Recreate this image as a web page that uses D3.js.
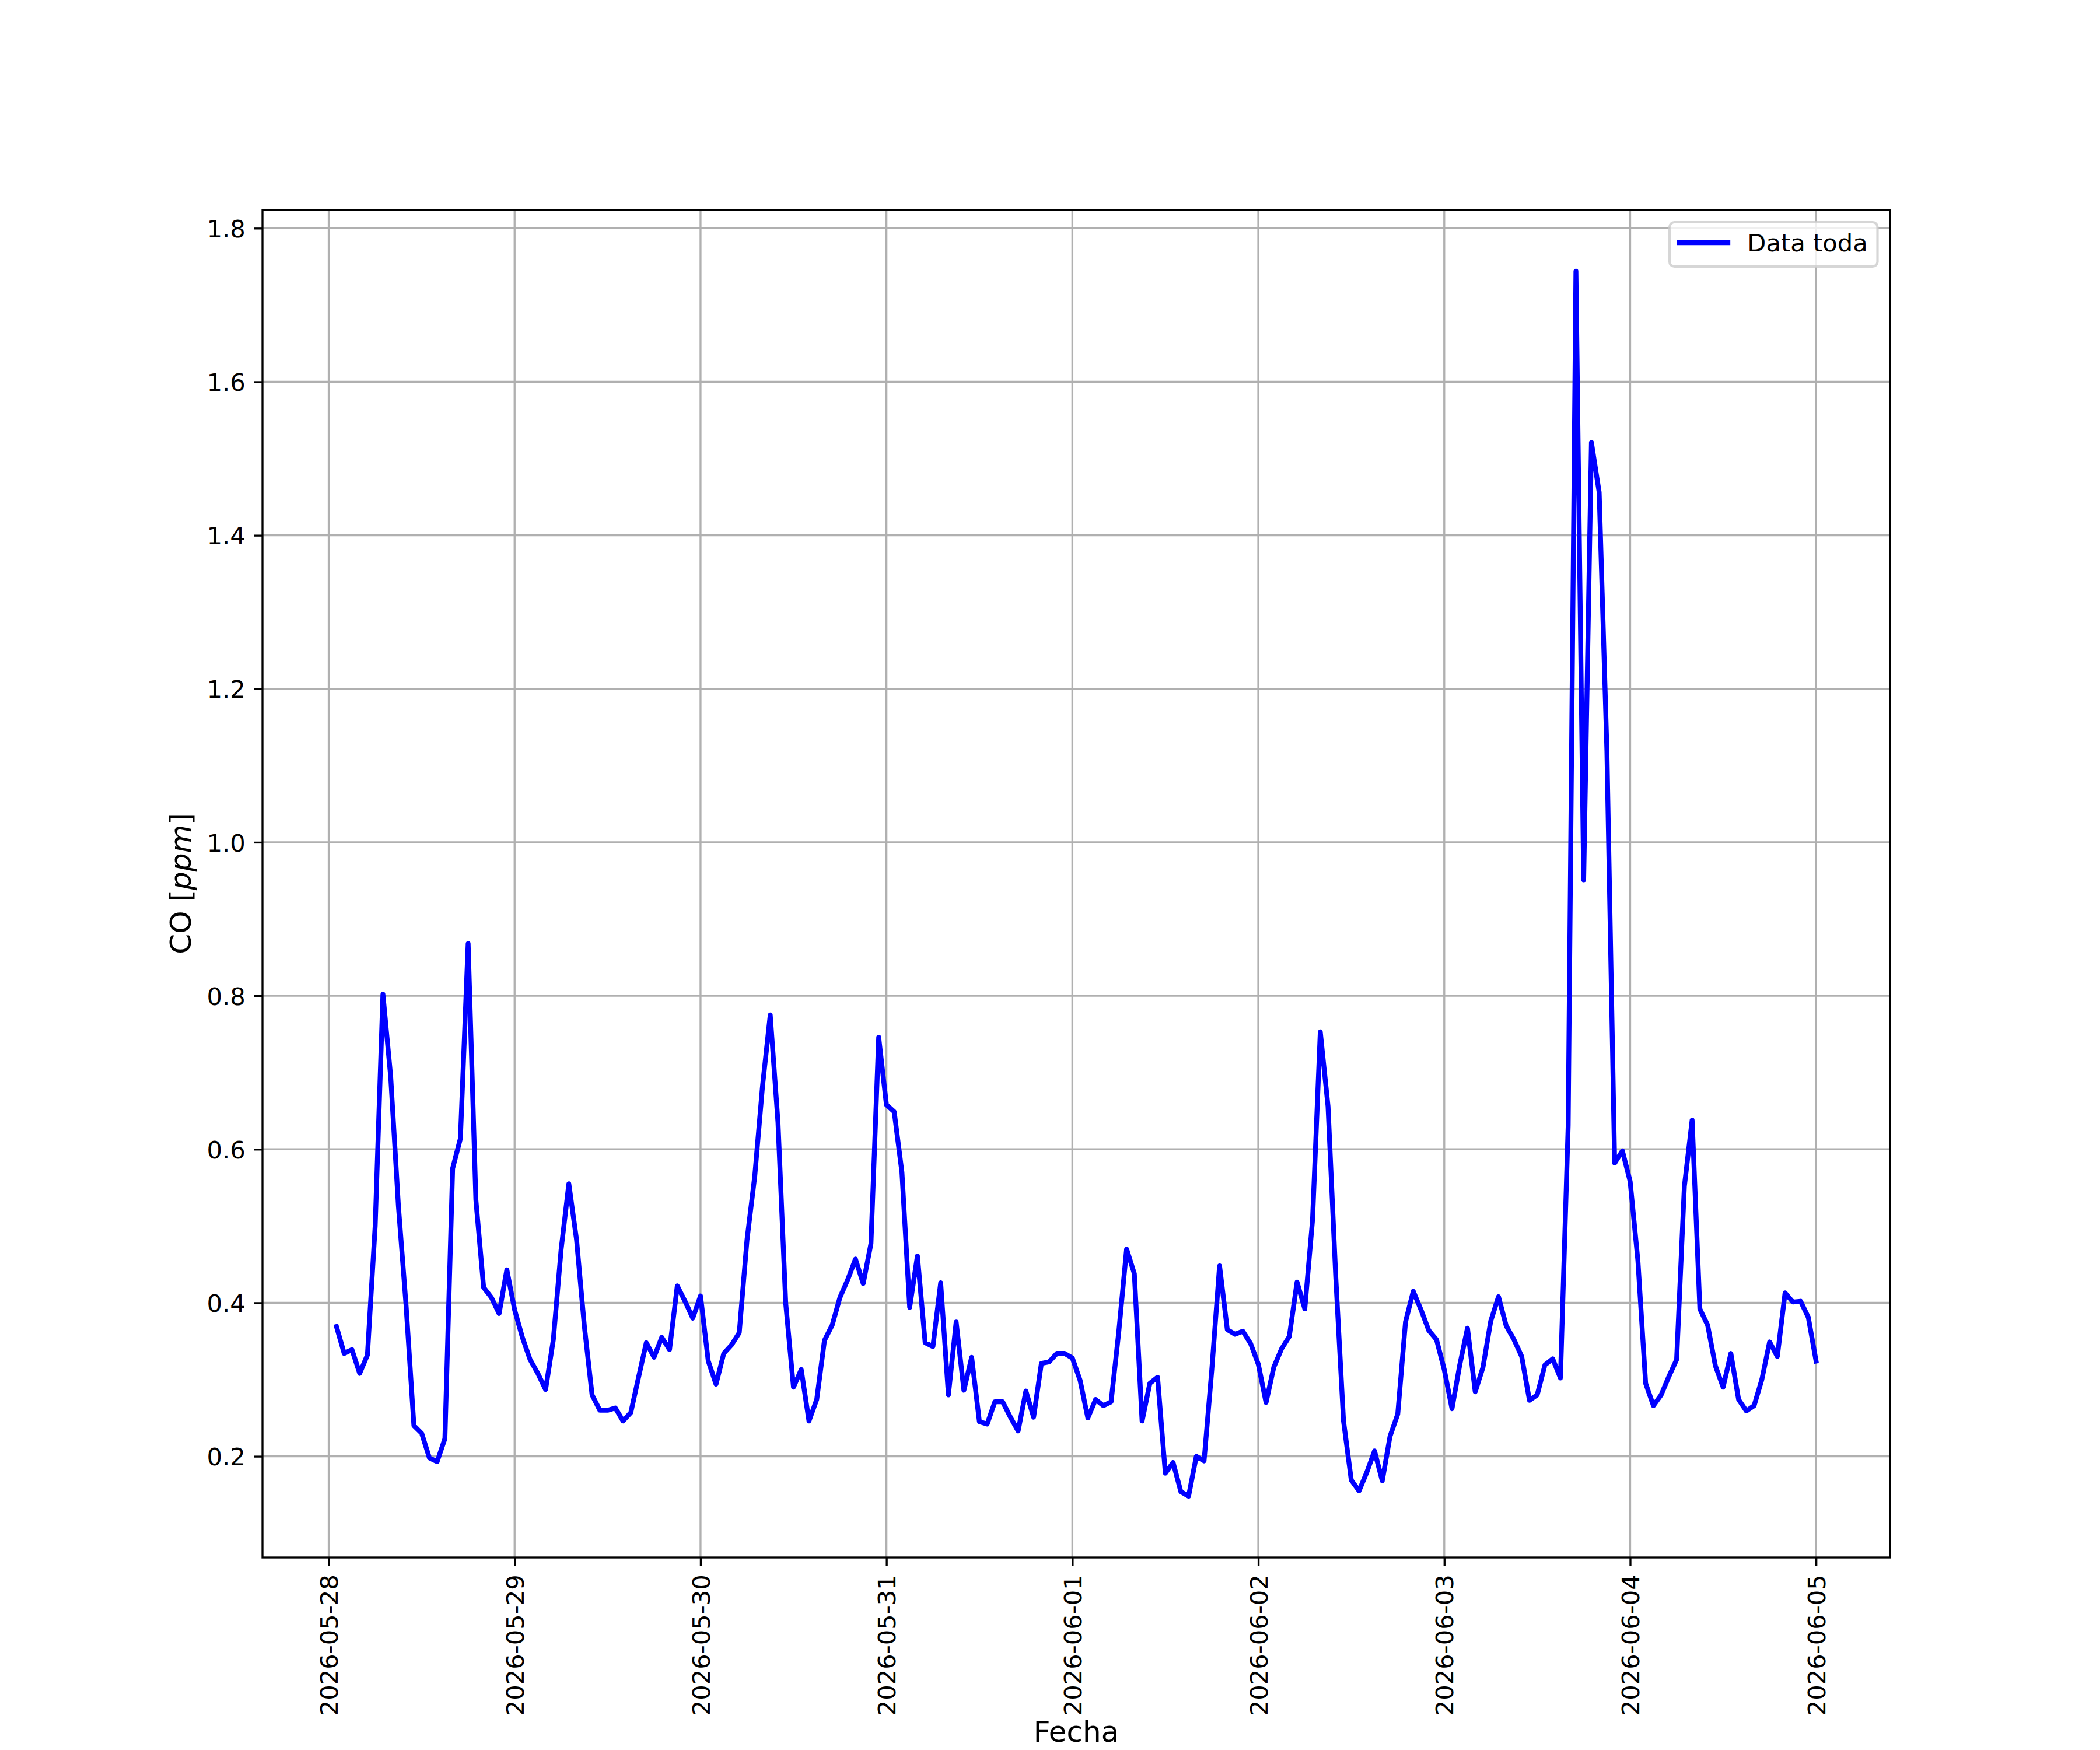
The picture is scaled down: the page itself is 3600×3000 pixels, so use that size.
<!DOCTYPE html>
<html>
<head>
<meta charset="utf-8">
<script src="https://cdn.jsdelivr.net/npm/d3@7"></script>
<style>
  body { margin: 0; background: #ffffff; }
  svg { display: block; }
  text { font-family: "DejaVu Sans", sans-serif; fill: #000; }
</style>
</head>
<body>
<svg id="chart" width="3600" height="3000"></svg>
<script>
// ---------------- DATA ----------------
const startTime = "2026-05-28T01:00:00Z";   // first hourly sample
const coValues = [
  0.369, 0.334, 0.339, 0.308, 0.332, 0.500, 0.802, 0.695, 0.526, 0.395, 0.240, 0.230,
  0.198, 0.193, 0.223, 0.575, 0.614, 0.868, 0.534, 0.420, 0.407, 0.386, 0.443, 0.391,
  0.355, 0.326, 0.308, 0.287, 0.352, 0.469, 0.555, 0.482, 0.370, 0.280, 0.260, 0.260,
  0.263, 0.246, 0.257, 0.303, 0.348, 0.329, 0.355, 0.339, 0.422, 0.402, 0.380, 0.409,
  0.324, 0.294, 0.334, 0.345, 0.361, 0.482, 0.565, 0.682, 0.775, 0.635, 0.399, 0.290,
  0.313, 0.246, 0.274, 0.351, 0.371, 0.407, 0.430, 0.457, 0.425, 0.477, 0.746, 0.658,
  0.649, 0.570, 0.394, 0.461, 0.348, 0.343, 0.426, 0.280, 0.375, 0.286, 0.329, 0.245,
  0.242, 0.271, 0.271, 0.251, 0.233, 0.285, 0.251, 0.321, 0.323, 0.334, 0.334, 0.328,
  0.299, 0.250, 0.274, 0.266, 0.271, 0.363, 0.470, 0.438, 0.246, 0.295, 0.303, 0.178,
  0.192, 0.154, 0.148, 0.200, 0.194, 0.313, 0.448, 0.365, 0.359, 0.363, 0.347, 0.320,
  0.270, 0.316, 0.340, 0.356, 0.427, 0.392, 0.508, 0.753, 0.656, 0.433, 0.246, 0.169,
  0.155, 0.179, 0.207, 0.168, 0.226, 0.255, 0.375, 0.415, 0.391, 0.364, 0.352, 0.313,
  0.262, 0.319, 0.367, 0.284, 0.316, 0.376, 0.408, 0.370, 0.352, 0.330, 0.273, 0.280,
  0.319, 0.327, 0.302, 0.631, 1.744, 0.951, 1.521, 1.456, 1.119, 0.582, 0.598, 0.558,
  0.455, 0.295, 0.266, 0.280, 0.304, 0.326, 0.552, 0.638, 0.392, 0.371, 0.318, 0.290,
  0.334, 0.274, 0.259, 0.266, 0.300, 0.349, 0.330, 0.413, 0.401, 0.402, 0.381, 0.324
];
const xTickLabels = ["2026-05-28", "2026-05-29", "2026-05-30", "2026-05-31", "2026-06-01",
                     "2026-06-02", "2026-06-03", "2026-06-04", "2026-06-05"];
const yTickLabels = ["0.2", "0.4", "0.6", "0.8", "1.0", "1.2", "1.4", "1.6", "1.8"];
const seriesName = "Data toda";
const xAxisTitle = "Fecha";

// ---------------- LAYOUT ----------------
const PT = 300 / 72;              // px per point (300 dpi)
const L = 450, T = 360, R = 3240, B = 2670;
const FS = 10 * PT;               // tick / legend font
const FSL = 12 * PT;              // axis label font
const tickLen = 3.5 * PT, tickPad = 3.5 * PT, thin = 0.8 * PT;
const lineW = 2.0 * PT;

const svg = d3.select("#chart");
svg.append("rect").attr("width", 3600).attr("height", 3000).attr("fill", "#fff");

const t0 = new Date(startTime);
const times = coValues.map((v, i) => d3.utcHour.offset(t0, i));
const data = times.map((t, i) => ({ t, v: coValues[i] }));

const [xa, xb] = d3.extent(times).map(d => +d);
const xm = (xb - xa) * 0.05;
const x = d3.scaleUtc().domain([new Date(xa - xm), new Date(xb + xm)]).range([L, R]);

const [ya, yb] = d3.extent(coValues);
const ym = (yb - ya) * 0.05;
const y = d3.scaleLinear().domain([ya - ym, yb + ym]).range([B, T]);

const parseDay = d3.utcParse("%Y-%m-%d");
const xTicks = xTickLabels.map(parseDay);
const yTicks = yTickLabels.map(Number);

// grid
const grid = svg.append("g");
grid.selectAll("line.gx").data(xTicks).join("line")
  .attr("x1", d => x(d)).attr("x2", d => x(d)).attr("y1", T).attr("y2", B)
  .attr("stroke", "#b0b0b0").attr("stroke-width", thin);
grid.selectAll("line.gy").data(yTicks).join("line")
  .attr("x1", L).attr("x2", R).attr("y1", d => y(d)).attr("y2", d => y(d))
  .attr("stroke", "#b0b0b0").attr("stroke-width", thin);

// series line
const line = d3.line().x(d => x(d.t)).y(d => y(d.v));
svg.append("path").datum(data)
  .attr("d", line)
  .attr("fill", "none").attr("stroke", "#0000ff")
  .attr("stroke-width", lineW)
  .attr("stroke-linejoin", "round").attr("stroke-linecap", "square");

// spines
svg.append("rect").attr("x", L).attr("y", T).attr("width", R - L).attr("height", B - T)
  .attr("fill", "none").attr("stroke", "#000").attr("stroke-width", thin);

// x axis
const xAxis = d3.axisBottom(x).tickValues(xTicks)
  .tickFormat((d, i) => xTickLabels[i]).tickSize(tickLen).tickSizeOuter(0);
const gx = svg.append("g").attr("transform", `translate(0,${B})`).call(xAxis);
gx.select(".domain").remove();
gx.selectAll(".tick line").attr("stroke", "#000").attr("stroke-width", thin);
gx.selectAll(".tick text")
  .attr("font-family", "DejaVu Sans").attr("font-size", FS).attr("fill", "#000")
  .attr("text-anchor", "end")
  .attr("transform", "rotate(-90)")
  .attr("x", -(tickLen + tickPad)).attr("y", 0.3645 * FS).attr("dy", 0);

// y axis
const yAxis = d3.axisLeft(y).tickValues(yTicks)
  .tickFormat((d, i) => yTickLabels[i]).tickSize(tickLen).tickPadding(tickPad).tickSizeOuter(0);
const gy = svg.append("g").attr("transform", `translate(${L},0)`).call(yAxis);
gy.select(".domain").remove();
gy.selectAll(".tick line").attr("stroke", "#000").attr("stroke-width", thin);
gy.selectAll(".tick text")
  .attr("font-family", "DejaVu Sans").attr("font-size", FS).attr("fill", "#000")
  .attr("dy", "0.3645em");

// axis titles
svg.append("text").attr("x", (L + R) / 2).attr("y", 2986)
  .attr("text-anchor", "middle").attr("font-size", FSL).text(xAxisTitle);

const yl = svg.append("text")
  .attr("transform", `translate(327,${(T + B) / 2}) rotate(-90)`)
  .attr("text-anchor", "middle").attr("font-size", FSL);
yl.append("tspan").text("CO [");
yl.append("tspan").attr("font-style", "italic").text("ppm");
yl.append("tspan").text("]");

// legend
const lg = svg.append("g");
const bx = 2862, by = 381, bpad = 0.4 * FS, hlen = 2.0 * FS, htp = 0.8 * FS;
const frame = lg.append("rect").attr("x", bx).attr("y", by).attr("height", 76)
  .attr("rx", 0.2 * FS).attr("ry", 0.2 * FS)
  .attr("fill", "#fff").attr("fill-opacity", 0.8)
  .attr("stroke", "#cccccc").attr("stroke-opacity", 0.8).attr("stroke-width", 1.0 * PT);
lg.append("line").attr("x1", bx + bpad).attr("x2", bx + bpad + hlen)
  .attr("y1", 416).attr("y2", 416)
  .attr("stroke", "#0000ff").attr("stroke-width", lineW).attr("stroke-linecap", "square");
const lt = lg.append("text").attr("x", bx + bpad + hlen + htp).attr("y", 431)
  .attr("font-size", FS).text(seriesName);
const tw = lt.node().getComputedTextLength();
frame.attr("width", bpad + hlen + htp + tw + bpad);
</script>
</body>
</html>
